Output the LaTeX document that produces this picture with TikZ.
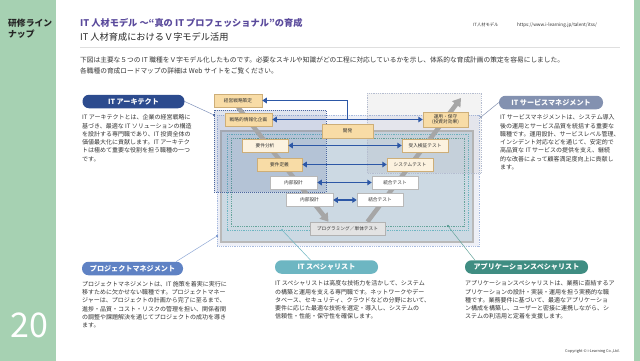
\documentclass[tikz,border=0pt]{standalone}
\usepackage{fontspec}
\setmainfont{Noto Sans CJK JP}
\usetikzlibrary{arrows.meta,backgrounds}
\definecolor{sidegreen}{HTML}{A6D1B2}
\definecolor{titlepurple}{HTML}{5A4A9C}
\definecolor{archnavy}{HTML}{2C4B8E}
\definecolor{smgray}{HTML}{8391B0}
\definecolor{pmblue}{HTML}{5F82C4}
\definecolor{itsteal}{HTML}{6DB6C2}
\definecolor{asteal}{HTML}{3F8D82}
\definecolor{arrowblue}{HTML}{2C57A6}
\definecolor{boxorange}{HTML}{F8DCA6}
\definecolor{boxcream}{HTML}{FCF2DF}
\definecolor{boxedge}{HTML}{CDAE78}
\definecolor{textgray}{HTML}{333333}
\definecolor{pmfill}{HTML}{EEF0F7}
\definecolor{innerfill}{HTML}{CCD9E3}

\begin{document}
\begin{tikzpicture}[x=1pt, y=-1pt,
	every node/.style={text=textgray},
	>={Triangle[length=4.5pt,width=5.5pt]},
	pill/.style={rounded corners=6.5pt, minimum height=13.5pt, inner sep=0pt, text=white, font=\fontsize{7.1}{8}\selectfont\bfseries},
	para/.style={anchor=north west, align=left, inner sep=0pt, font=\fontsize{6}{8.3}\selectfont},
	vbox/.style={draw=boxedge, line width=0.5pt, minimum height=13pt, inner sep=0.5pt, align=center, font=\fontsize{4.7}{5.6}\selectfont},
	orangebox/.style={vbox, fill=boxorange},
	creambox/.style={vbox, fill=boxcream},
	whitebox/.style={vbox, fill=white, draw=gray!55},
	blueline/.style={arrowblue, line width=1.8pt},
	vline/.style={gray!70, line width=4.5pt, -{Triangle[length=8pt,width=10pt]}},
	callout/.style={line width=0.5pt},
	calldot/.style={circle, inner sep=0pt, minimum size=2.4pt}]
	\useasboundingbox (0,0) rectangle (640,361);
	% side bars
	\node[anchor=north west, align=left, inner sep=0pt, text=black!85, font=\fontsize{8.8}{11}\selectfont\bfseries] (side) at (8,19) {研修ライン\\ナップ};
	\node[anchor=base west, inner sep=0pt, text=white, font=\fontsize{34}{34}\selectfont] (page) at (10,337) {20};
	% header
	\node[anchor=base west, inner sep=0pt, text=titlepurple, font=\fontsize{9.2}{11}\selectfont\bfseries] (title) at (80,27) {IT 人材モデル ～“真の IT プロフェッショナル”の育成};
	\node[anchor=base west, inner sep=0pt, text=black!85, font=\fontsize{9.2}{11}\selectfont] (subtitle) at (80,41) {IT 人材育成におけるＶ字モデル活用};
	\node[anchor=base west, inner sep=0pt, font=\fontsize{4.3}{5}\selectfont] (tag) at (473,26.5) {IT人材モデル};
	\node[anchor=base west, inner sep=0pt, font=\fontsize{4.6}{5}\selectfont] (url) at (517,26.5) {https://www.i-learning.jp/talent/itss/};
	\draw[gray!25, line width=0.6pt] (80,47) -- (620,47);
	\node[anchor=base west, inner sep=0pt, font=\fontsize{6.7}{8}\selectfont] (intro1) at (80,63) {下図は主要な５つの IT 職種をＶ字モデル化したものです。必要なスキルや知識がどの工程に対応しているかを示し、体系的な育成計画の策定を容易にしました。};
	\node[anchor=base west, inner sep=0pt, font=\fontsize{6.7}{8}\selectfont] (intro2) at (80,74) {各職種の育成ロードマップの詳細は Web サイトをご覧ください。};

	% process boxes
	\node[orangebox, minimum width=48pt] (strat) at (238,100.5) {経営戦略策定};
	\node[orangebox, minimum width=47pt] (plan) at (248.5,119.5) {戦略的情報化企画};
	\node[orangebox, minimum width=51pt, minimum height=14pt] (dev) at (347.5,131) {開発};
	\node[creambox, minimum width=46pt] (req) at (265,145.5) {要件分析};
	\node[orangebox, minimum width=45pt] (reqdef) at (279.5,164.5) {要件定義};
	\node[whitebox, minimum width=47pt] (ext) at (293.5,182.5) {内部設計};
	\node[whitebox, minimum width=47pt] (int) at (309.5,200) {内部設計};
	\node[orangebox, minimum width=45pt, minimum height=15pt, font=\fontsize{4.7}{5.4}\selectfont] (ops) at (445.5,119.5) {運用・保守\\(投資対効果)};
	\node[creambox, minimum width=46pt] (acc) at (425,145.5) {受入検証テスト};
	\node[creambox, minimum width=46pt] (sys) at (410,164.5) {システムテスト};
	\node[whitebox, minimum width=46pt] (tot) at (395,182.5) {統合テスト};
	\node[whitebox, minimum width=46pt] (comb) at (380,200) {結合テスト};
	\node[vbox, fill=gray!22, draw=gray!60, minimum width=75pt] (prog) at (347.5,228.5) {プログラミング／単体テスト};

	% regions and V arrows behind the boxes
	\coordinate (vtop) at (461,98);
	\begin{pgfonlayer}{background}
		\fill[white] (0,0) rectangle (640,361);
		\fill[sidegreen] (0,0) rectangle (56,361);
		\fill[sidegreen] (634,0) rectangle (640,361);
		\filldraw[fill=pmfill, draw=pmblue!55, densely dotted, line width=0.8pt] (217,115) rectangle (479,246);
		\filldraw[fill=innerfill, draw=gray!55, line width=1.3pt] (221,131) rectangle (473,242);
		\draw[itsteal, densely dotted, line width=0.8pt] (227,134) rectangle (468,230);
		\draw[asteal!80, densely dotted, line width=0.8pt] (231,138) rectangle (464,226);
		\filldraw[fill=archnavy, fill opacity=0.15, draw=archnavy!85, densely dotted, line width=1pt] (214,110) rectangle (326,192);
		\filldraw[fill=gray, fill opacity=0.09, draw=smgray!60, densely dotted, line width=0.8pt] (367,93) rectangle (481,173);
		\draw[vline] (strat.south) -- ([xshift=-19pt]prog.north);
		\draw[vline] ([xshift=20pt]prog.north) -- (vtop);
	\end{pgfonlayer}

	% blue links
	\draw[blueline, <->] (plan.east) -- (ops.west);
	\draw[blueline, ->] (dev.north |- plan.east) |- (strat.east);
	\draw[blueline, <->] (req.east) -- (acc.west);
	\draw[blueline, <->] (reqdef.east) -- (sys.west);
	\draw[blueline, <->] (ext.east) -- (tot.west);
	\draw[blueline, <->] (int.east) -- (comb.west);

	% roles
	\node[pill, fill=archnavy, minimum width=102pt] (arch) at (133.5,101.5) {IT アーキテクト};
	\node[para] (archtext) at (82,114.5) {IT アーキテクトとは、企業の経営戦略に\\基づき、最適な IT ソリューションの構造\\を設計する専門職であり、IT 投資全体の\\価値最大化に貢献します。IT アーキテク\\トは極めて重要な役割を担う職種の一つ\\です。};
	\node[pill, fill=smgray, minimum width=104pt] (sm) at (551,102.5) {IT サービスマネジメント};
	\node[para] (smtext) at (500,114.5) {IT サービスマネジメントは、システム導入\\後の運用とサービス品質を統括する重要な\\職種です。運用設計、サービスレベル管理、\\インシデント対応などを通じて、安定的で\\高品質な IT サービスの提供を支え、継続\\的な改善によって顧客満足度向上に貢献し\\ます。};
	\node[pill, fill=pmblue, minimum width=101pt] (pm) at (132.5,268.5) {プロジェクトマネジメント};
	\node[para] (pmtext) at (82,281) {プロジェクトマネジメントは、IT 施策を着実に実行に\\移すために欠かせない職種です。プロジェクトマネー\\ジャーは、プロジェクトの計画から完了に至るまで、\\進捗・品質・コスト・リスクの管理を担い、関係者間\\の調整や課題解決を通じてプロジェクトの成功を導き\\ます。};
	\node[pill, fill=itsteal, minimum width=103pt] (its) at (326.5,267) {IT スペシャリスト};
	\node[para] (itstext) at (275,280.5) {IT スペシャリストは高度な技術力を活かして、システム\\の構築と運用を支える専門職です。ネットワークやデー\\タベース、セキュリティ、クラウドなどの分野において、\\要件に応じた最適な技術を選定・導入し、システムの\\信頼性・性能・保守性を確保します。};
	\node[pill, fill=asteal, minimum width=123pt] (as) at (526.5,267) {アプリケーションスペシャリスト};
	\node[para] (astext) at (465,280.5) {アプリケーションスペシャリストは、業務に直結するア\\プリケーションの設計・実装・運用を担う実務的な職\\種です。業務要件に基づいて、最適なアプリケーショ\\ン構成を構築し、ユーザーと密接に連携しながら、シ\\ステムの利活用と定着を支援します。};

	% callouts
	\node[calldot, fill=archnavy] (archdot) at (214,115) {};
	\node[calldot, fill=smgray] (smdot) at (481,117) {};
	\node[calldot, fill=pmblue] (pmdot) at (217,236) {};
	\node[calldot, fill=itsteal] (itsdot) at (282,230) {};
	\node[calldot, fill=asteal] (asdot) at (448,226) {};
	\draw[callout, archnavy!60] (arch.east) -- (archdot);
	\draw[callout, smgray] (sm.west) -- (smdot);
	\draw[callout, pmblue!70] ([xshift=-7pt]pm.north east) -- (pmdot);
	\draw[callout, itsteal] ([xshift=-16pt]its.north) -- (itsdot);
	\draw[callout, asteal!80] ([xshift=10pt]as.north west) -- (asdot);

	\node[anchor=base east, inner sep=0pt, font=\fontsize{3.8}{4}\selectfont] (copy) at (620,352) {Copyright © i-Learning Co.,Ltd.};
\end{tikzpicture}
\end{document}
